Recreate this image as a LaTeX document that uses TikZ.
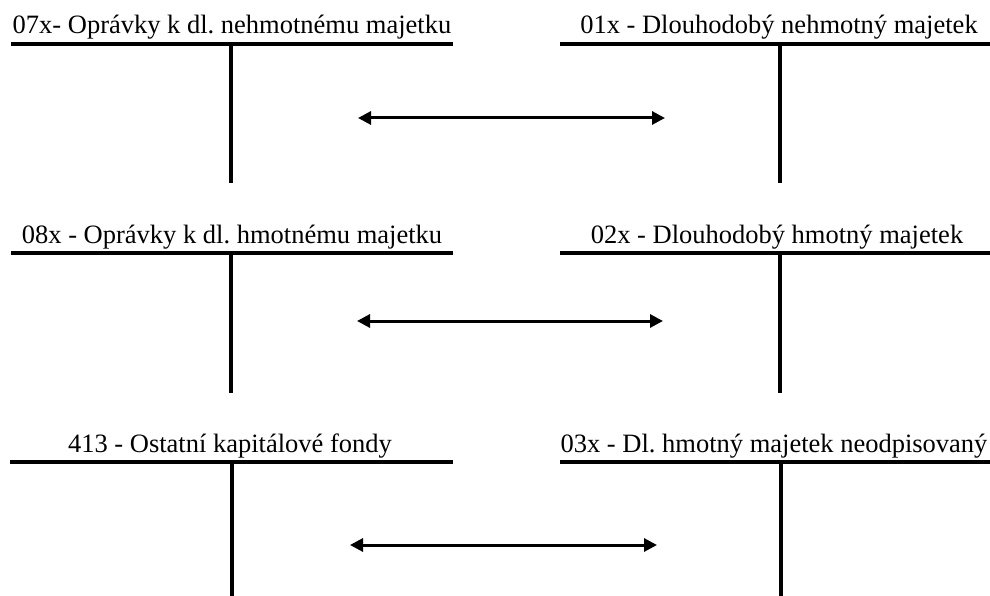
\documentclass[tikz,border=0pt]{standalone}
\usepackage{fontspec}
\setmainfont{Liberation Serif}
\usetikzlibrary{arrows.meta}
\begin{document}
\frenchspacing
\begin{tikzpicture}[x=1pt,y=-1pt,
  acct/.style={line width=4pt},
  title/.style={anchor=base,inner sep=0pt,font=\fontsize{26.5}{30}\selectfont\frenchspacing},
  link/.style={line width=3pt,{Triangle[length=13pt,width=13pt]}-{Triangle[length=13pt,width=13pt]}}]
\useasboundingbox (0,0) rectangle (990,596);
% row 1
\coordinate (l1a) at (11,44); \coordinate (l1b) at (453,44);
\coordinate (l1t) at (231,44); \coordinate (l1e) at (231,183);
\coordinate (r1a) at (560,44); \coordinate (r1b) at (990,44);
\coordinate (r1t) at (780,44); \coordinate (r1e) at (780,183);
\node[title] (t07) at (232,34) {07x- Oprávky k dl. nehmotnému majetku};
\node[title] (t01) at (779,34) {01x - Dlouhodobý nehmotný majetek};
\draw[acct] (l1a) -- (l1b); \draw[acct] (l1t) -- (l1e);
\draw[acct] (r1a) -- (r1b); \draw[acct] (r1t) -- (r1e);
\coordinate (a1l) at (358,118); \coordinate (a1r) at (665,118);
\draw[link] (a1l) -- (a1r);
% row 2
\coordinate (l2a) at (11,253); \coordinate (l2b) at (453,253);
\coordinate (l2t) at (231,253); \coordinate (l2e) at (231,393);
\coordinate (r2a) at (560,253); \coordinate (r2b) at (990,253);
\coordinate (r2t) at (780,253); \coordinate (r2e) at (780,393);
\node[title] (t08) at (232,243) {08x - Oprávky k dl. hmotnému majetku};
\node[title] (t02) at (777,243) {02x - Dlouhodobý hmotný majetek};
\draw[acct] (l2a) -- (l2b); \draw[acct] (l2t) -- (l2e);
\draw[acct] (r2a) -- (r2b); \draw[acct] (r2t) -- (r2e);
\coordinate (a2l) at (357,321); \coordinate (a2r) at (663,321);
\draw[link] (a2l) -- (a2r);
% row 3
\coordinate (l3a) at (10,462); \coordinate (l3b) at (453,462);
\coordinate (l3t) at (232,462); \coordinate (l3e) at (232,596);
\coordinate (r3a) at (560,462); \coordinate (r3b) at (990,462);
\coordinate (r3t) at (781,462); \coordinate (r3e) at (781,596);
\node[title] (t413) at (230,452) {413 - Ostatní kapitálové fondy};
\node[title] (t03) at (774,452) {03x - Dl. hmotný majetek neodpisovaný};
\draw[acct] (l3a) -- (l3b); \draw[acct] (l3t) -- (l3e);
\draw[acct] (r3a) -- (r3b); \draw[acct] (r3t) -- (r3e);
\coordinate (a3l) at (350,545); \coordinate (a3r) at (657,545);
\draw[link] (a3l) -- (a3r);
\end{tikzpicture}
\end{document}
